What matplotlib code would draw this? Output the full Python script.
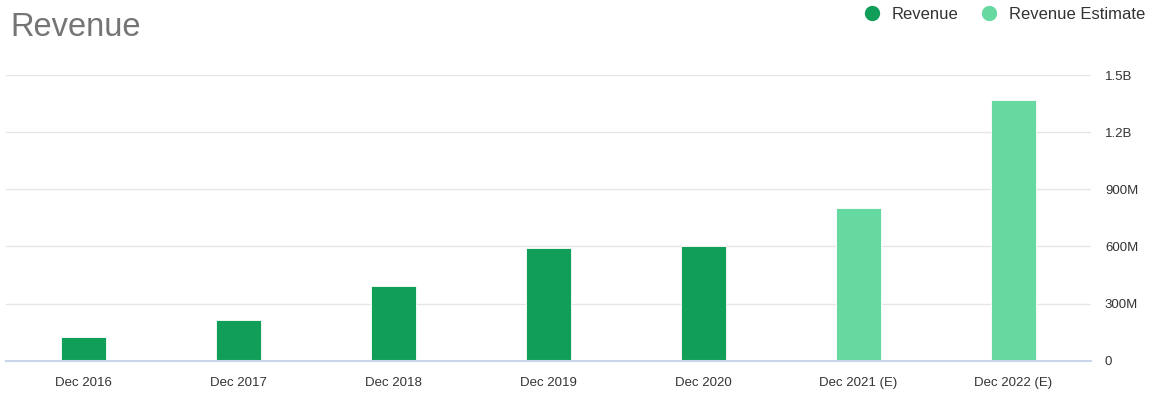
import matplotlib.pyplot as plt
from matplotlib.lines import Line2D

categories = ["Dec 2016", "Dec 2017", "Dec 2018", "Dec 2019", "Dec 2020", "Dec 2021 (E)", "Dec 2022 (E)"]
revenue = [123e6, 214e6, 392e6, 590e6, 602e6, None, None]
estimate = [None, None, None, None, None, 802e6, 1370e6]
tick_vals = [0, 300e6, 600e6, 900e6, 1.2e9, 1.5e9]
tick_labels = ["0", "300M", "600M", "900M", "1.2B", "1.5B"]

dark = "#119e59"
light = "#66d9a1"

plt.rcParams['font.family'] = ['Liberation Sans', 'DejaVu Sans']

fig = plt.figure(figsize=(11.54, 3.96), dpi=100)
ax = fig.add_axes([6 / 1154, 35.3 / 396, 1085 / 1154, 285.7 / 396])

x = list(range(len(categories)))
for i in x:
    if revenue[i] is not None:
        ax.bar(i, revenue[i], width=0.285, color=dark, edgecolor="white", linewidth=0.6, zorder=3)
    if estimate[i] is not None:
        ax.bar(i, estimate[i], width=0.285, color=light, edgecolor="white", linewidth=0.6, zorder=3)

ax.set_xlim(-0.5, len(categories) - 0.5)
ax.set_ylim(0, 1.5e9)
ax.set_xticks(x)
ax.set_xticklabels(categories, fontsize=9.5, color="#333333")
ax.set_yticks(tick_vals)
ax.set_yticklabels(tick_labels, fontsize=9.5, color="#333333")
ax.yaxis.tick_right()
ax.tick_params(axis="y", length=0, pad=10)
ax.tick_params(axis="x", length=0, pad=12)
for lab in ax.get_yticklabels():
    lab.set_horizontalalignment("left")

ax.grid(axis="y", color="#e6e6e6", linewidth=1, zorder=0)
for s in ["top", "left", "right"]:
    ax.spines[s].set_visible(False)
ax.spines["bottom"].set_color("#ccd6eb")
ax.spines["bottom"].set_linewidth(1.5)
ax.spines["bottom"].set_zorder(4)

fig.text(10 / 1154, 1 - 27 / 396, "Revenue", fontsize=23.5, color="#757575", va="center", ha="left")

handles = [
    Line2D([], [], marker="o", linestyle="", markersize=10, color=dark),
    Line2D([], [], marker="o", linestyle="", markersize=10, color=light),
]
fig.legend(handles, ["Revenue", "Revenue Estimate"], loc="upper right",
           bbox_to_anchor=(1160 / 1154, 1.02), ncol=2, frameon=False,
           fontsize=12, labelcolor="#333333", handletextpad=0.2, columnspacing=0.8)

fig.savefig("out.png", dpi=100)
